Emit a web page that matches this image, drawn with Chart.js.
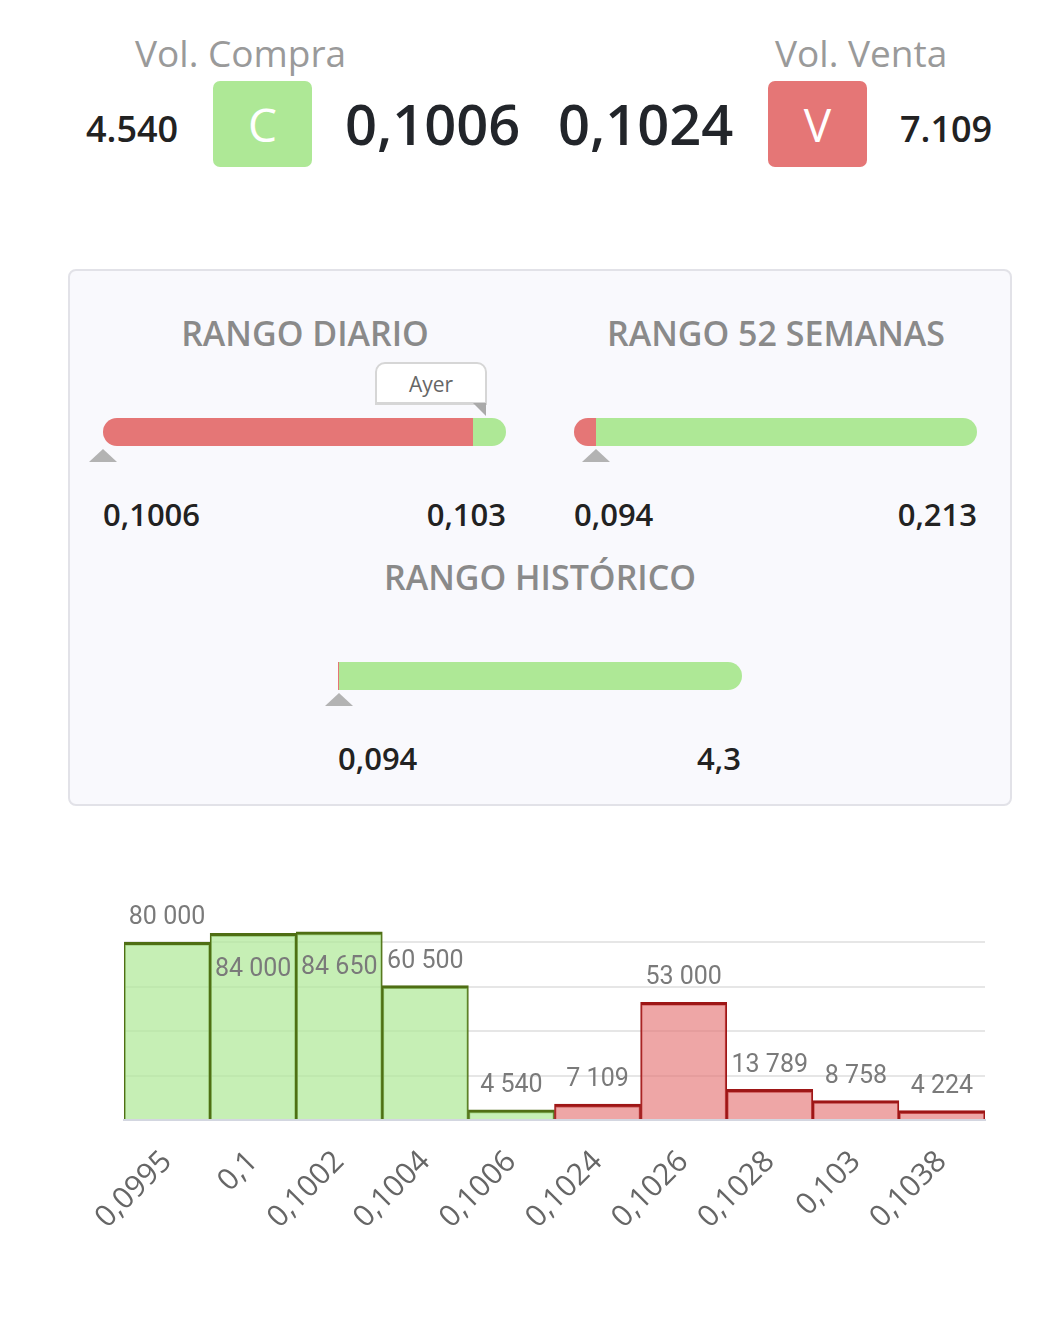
<!DOCTYPE html>
<html>
<head>
<meta charset="utf-8">
<script src="https://cdn.jsdelivr.net/npm/chart.js@4.4.1/dist/chart.umd.min.js"></script>
<style>
  body { margin: 0; background: #fff; font-family: "Open Sans", sans-serif; }
  .abs { position: absolute; white-space: nowrap; }
  .vol-title { color: #9a9a9a; font-size: 37px; top: 27px; }
  .vol { color: #222; font-size: 36px; font-weight: 600; top: 104px; }
  .precio { color: #22252a; font-size: 56px; font-weight: 600; top: 85px; }
  .boton { width: 99px; height: 86px; border-radius: 7px; color: #fff; font-size: 46px;
           text-align: center; line-height: 86px; top: 81px; }
  .panel { left: 68px; top: 269px; width: 940px; height: 533px; background: #f9f9fd;
           border: 2px solid #e2e2e8; border-radius: 8px; }
  .rango-titulo { color: #8a8a8a; font-size: 34px; font-weight: 600; transform: translateX(-50%); }
  .barra { height: 28px; display: flex; }
  .barra .rojo { background: #e57676; border-radius: 14px 0 0 14px; }
  .barra .verde { background: #aee896; border-radius: 0 14px 14px 0; flex: 1; }
  .tri { width: 0; height: 0; border-left: 14px solid transparent; border-right: 14px solid transparent;
         border-bottom: 13px solid #b3b3b3; transform: translateX(-50%); }
  .lim { color: #222; font-size: 31px; font-weight: 600; }
  .ayer { left: 375px; top: 362px; width: 108px; height: 38px; background: #fff; border: 2px solid #d6d6d6;
          border-bottom-width: 3px; border-radius: 10px 10px 0 0; color: #666; font-size: 21px; text-align: center; line-height: 40px; }
  .ayer-tri { left: 473px; top: 403px; width: 0; height: 0; border-top: 13px solid #aaa; border-left: 13px solid transparent; }
  #grafico { position: absolute; left: 0; top: 900px; width: 1047px; height: 340px; }
</style>
</head>
<body>
<!-- cabecera -->
<div class="abs vol-title" style="left:135px">Vol. Compra</div>
<div class="abs vol-title" style="left:775px">Vol. Venta</div>
<div class="abs vol" style="left:86px">4.540</div>
<div class="abs boton" style="left:213px; background:#aee896">C</div>
<div class="abs precio" style="left:345px">0,1006</div>
<div class="abs precio" style="left:558px">0,1024</div>
<div class="abs boton" style="left:768px; background:#e57676">V</div>
<div class="abs vol" style="left:900px">7.109</div>

<!-- rangos -->
<div class="abs panel"></div>
<div class="abs rango-titulo" style="left:305px; top:310px">RANGO DIARIO</div>
<div class="abs rango-titulo" style="left:776px; top:310px">RANGO 52 SEMANAS</div>

<div class="abs ayer">Ayer</div>
<div class="abs ayer-tri"></div>
<div class="abs barra" style="left:103px; top:418px; width:403px"><div class="rojo" style="width:370px"></div><div class="verde"></div></div>
<div class="abs tri" style="left:103px; top:449px"></div>
<div class="abs lim" style="left:103px; top:493px">0,1006</div>
<div class="abs lim" style="right:541px; top:493px">0,103</div>

<div class="abs barra" style="left:574px; top:418px; width:403px"><div class="rojo" style="width:22px"></div><div class="verde"></div></div>
<div class="abs tri" style="left:596px; top:449px"></div>
<div class="abs lim" style="left:574px; top:493px">0,094</div>
<div class="abs lim" style="right:70px; top:493px">0,213</div>

<div class="abs rango-titulo" style="left:540px; top:554px">RANGO HISTÓRICO</div>
<div class="abs barra" style="left:338px; top:662px; width:404px"><div class="rojo" style="width:1px; border-radius:0"></div><div class="verde"></div></div>
<div class="abs tri" style="left:339px; top:693px"></div>
<div class="abs lim" style="left:338px; top:737px">0,094</div>
<div class="abs lim" style="right:306px; top:737px">4,3</div>

<div id="grafico"><canvas id="libroGr"></canvas></div>

<script>
// Libro de órdenes: precios y volúmenes
const precios = ['0,0995', '0,1', '0,1002', '0,1004', '0,1006', '0,1024', '0,1026', '0,1028', '0,103', '0,1038'];
const volumenes = [80000, 84000, 84650, 60500, 4540, 7109, 53000, 13789, 8758, 4224];
const lados = ['C', 'C', 'C', 'C', 'C', 'V', 'V', 'V', 'V', 'V'];

const formatear = (n) => String(n).replace(/\B(?=(\d{3})+(?!\d))/g, ' ');

// etiquetas de volumen encima de cada barra
const etiquetas = {
    id: 'etiquetas',
    afterDatasetsDraw(chart) {
        const ctx = chart.ctx;
        const meta = chart.getDatasetMeta(0);
        ctx.save();
        ctx.font = '25px Roboto';
        ctx.fillStyle = '#7a7a7a';
        ctx.textAlign = 'center';
        ctx.textBaseline = 'middle';
        meta.data.forEach((bar, i) => {
            let y = bar.y - 24;
            if (y - 13 < 0) y = bar.y + 36;
            ctx.fillText(formatear(volumenes[i]), bar.x, y);
        });
        ctx.restore();
    }
};

const data = {
    labels: precios,
    datasets: [{
        label: 'Volumen',
        data: volumenes,
        backgroundColor: lados.map(l => l === 'C' ? 'rgba(174,232,150,0.7)' : 'rgba(229,118,118,0.65)'),
        borderColor: lados.map(l => l === 'C' ? '#4f6e14' : '#9e1616'),
        borderWidth: { top: 3, left: 1.5, right: 1.5, bottom: 0 },
        barPercentage: 1,
        categoryPercentage: 1,
    }]
};

const config = {
    type: 'bar',
    data: data,
    plugins: [etiquetas],
    options: {
        responsive: true,
        maintainAspectRatio: false,
        animation: false,
        layout: { padding: { left: 124, right: 62, top: 20, bottom: 10 } },
        plugins: {
            legend: { display: false },
            tooltip: { enabled: false },
        },
        scales: {
            x: {
                grid: { display: false },
                border: { display: true, color: '#d3d6e0', width: 2 },
                ticks: {
                    color: '#666',
                    font: { size: 30, family: 'Open Sans' },
                    minRotation: 45,
                    maxRotation: 45,
                    padding: 16,
                },
                afterFit: (scale) => { scale.height = 110; },
            },
            y: {
                min: 0,
                max: 90000,
                border: { display: false },
                grid: { color: '#e6e6e6', lineWidth: 2, drawTicks: false },
                ticks: { display: false },
                afterBuildTicks: (axis) => {
                    axis.ticks = [0, 20000, 40000, 60000, 80000].map(v => ({ value: v }));
                },
            }
        }
    },
};

const libroChart = new Chart(document.getElementById('libroGr'), config);
</script>
</body>
</html>
